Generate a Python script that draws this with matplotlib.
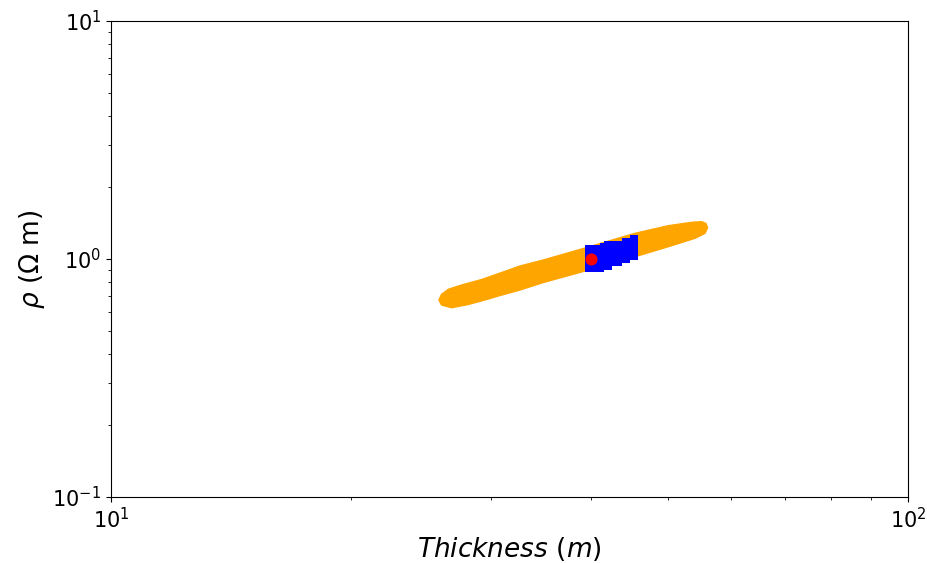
import numpy as np
import matplotlib
matplotlib.use("Agg")
import matplotlib.pyplot as plt
from matplotlib.ticker import NullFormatter

# Outline of the orange cloud of accepted models (thickness m, rho ohm-m)
orange_thk = [25.79, 25.99, 26.50, 27.54, 29.18, 30.92, 32.60, 34.87, 39.14, 45.45, 50.04, 53.55, 55.11,
              55.79, 56.06, 55.63, 54.05, 50.04, 45.45, 39.14, 34.87, 32.60, 30.77, 29.75, 28.07, 26.76, 25.99]
orange_rho = [0.6726, 0.7107, 0.7459, 0.7776, 0.8201, 0.8776, 0.9346, 0.9904, 1.1069, 1.2820, 1.3803, 1.4264, 1.4347,
              1.4100, 1.3538, 1.2820, 1.2217, 1.1265, 1.0225, 0.8861, 0.7966, 0.7409, 0.7024, 0.6791, 0.6439, 0.6241, 0.6407]

# Outline of the blue cloud (staircase edges)
blue_thk = [39.33, 39.33, 41.07, 41.07, 41.55, 41.55, 43.77, 43.77, 44.79, 44.79, 45.80,
            45.80, 44.79, 44.79, 43.77, 43.77, 42.52, 42.52, 41.55, 41.55]
blue_rho = [0.879, 1.142, 1.142, 1.167, 1.167, 1.194, 1.194, 1.225, 1.225, 1.258, 1.258,
            0.993, 0.993, 0.962, 0.962, 0.932, 0.932, 0.902, 0.902, 0.879]

# true model
true_thk = [40.0]
true_rho = [1.0]

fig = plt.figure(figsize=(9.28, 5.63), dpi=100)
ax = fig.add_axes([0.1196, 0.1172, 0.8588, 0.8455])

ax.fill(orange_thk, orange_rho, color='orange', lw=1, joinstyle='round')
ax.fill(blue_thk, blue_rho, color='blue', lw=0)
ax.plot(true_thk, true_rho, 'o', color='red', ms=7.7)

ax.set_xscale('log')
ax.set_yscale('log')
ax.set_xlim(10, 100)
ax.set_ylim(0.1, 10)
ax.xaxis.set_minor_formatter(NullFormatter())
ax.yaxis.set_minor_formatter(NullFormatter())

ax.set_xlabel(r'$Thickness\ (m)$', fontsize=19, labelpad=2)
ax.set_ylabel(r'$\rho$ ($\Omega$ m)', fontsize=19)
ax.tick_params(labelsize=15)

plt.savefig('out.png', dpi=100)
